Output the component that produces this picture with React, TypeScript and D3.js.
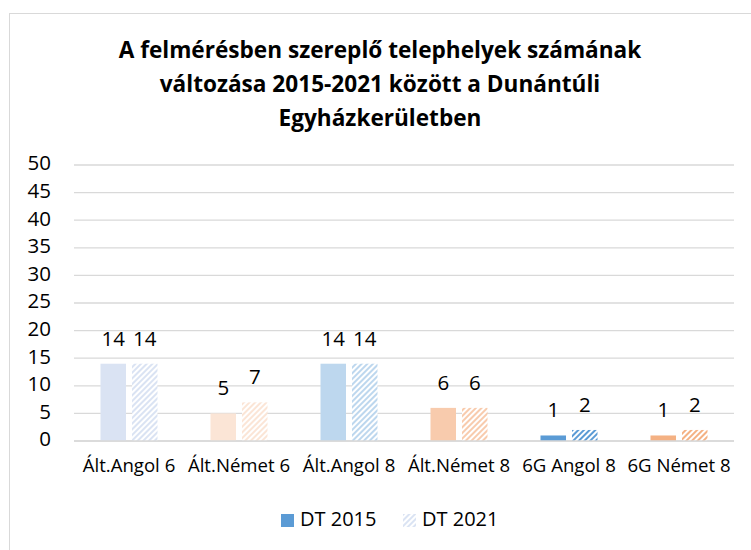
import * as d3 from "d3";

const categories = ["Ált.Angol 6", "Ált.Német 6", "Ált.Angol 8", "Ált.Német 8", "6G Angol 8", "6G Német 8"];
const dt2015 = [14, 5, 14, 6, 1, 1];
const dt2021 = [14, 7, 14, 6, 2, 2];
const seriesNames = ["DT 2015", "DT 2021"];
const yTicks = [0, 5, 10, 15, 20, 25, 30, 35, 40, 45, 50];
const titleLines = [
  "A felmérésben szereplő telephelyek számának",
  "változása 2015-2021 között a Dunántúli",
  "Egyházkerületben",
];

// one colour per category ("vary colours by point")
const pointColors = ["#dae3f3", "#fbe5d6", "#bdd7ee", "#f8cbad", "#5b9bd5", "#f4b183"];

const W = 751;
const H = 550;
const FONT = "'Open Sans', sans-serif";

export default function App() {
  const left = 74;
  const right = 734;
  const top = 165;
  const bottom = 441;

  const x0 = d3.scaleBand().domain(categories).range([left, right]);
  const x1 = d3.scaleBand().domain(seriesNames).range([0, 57]).paddingInner(0.19);
  const y = d3.scaleLinear().domain([0, 50]).range([bottom, top]);

  const groupOffset = (x0.bandwidth() - 57) / 2;

  const series = [dt2015, dt2021];

  return (
    <svg width={W} height={H} style={{ position: "absolute", left: 0, top: 0, background: "#fff" }}>
      <defs>
        {pointColors.map((c, i) => (
          <pattern
            key={i}
            id={`hatch-${i}`}
            patternUnits="userSpaceOnUse"
            width={4}
            height={4}
            patternTransform="rotate(45)"
          >
            <rect width={4} height={4} fill="#fff" />
            <rect width={2} height={4} fill={c} />
          </pattern>
        ))}
      </defs>

      <rect x={9.5} y={13.5} width={W} height={H} fill="#fff" stroke="#d9d9d9" strokeWidth={1} />

      {titleLines.map((t, i) => (
        <text
          key={i}
          x={380}
          y={52 + i * 34}
          textAnchor="middle"
          dominantBaseline="middle"
          fontFamily={FONT}
          fontWeight="bold"
          fontSize={22.6}
          fill="#000"
        >
          {t}
        </text>
      ))}

      {yTicks.map((t) => (
        <g key={t}>
          <line x1={left} x2={right} y1={y(t)} y2={y(t)} stroke="#d9d9d9" strokeWidth={1.3} />
          <text
            x={51}
            y={y(t)}
            textAnchor="end"
            dominantBaseline="middle"
            fontFamily={FONT}
            fontSize={20.5}
            fill="#000"
          >
            {t}
          </text>
        </g>
      ))}

      {categories.map((c, ci) => (
        <g key={c}>
          {series.map((vals, si) => {
            const bx = (x0(c) as number) + groupOffset + (x1(seriesNames[si]) as number);
            const v = vals[ci];
            return (
              <g key={si}>
                <rect
                  x={bx}
                  y={y(v)}
                  width={x1.bandwidth()}
                  height={bottom - y(v)}
                  fill={si === 0 ? pointColors[ci] : `url(#hatch-${ci})`}
                />
                <text
                  x={bx + x1.bandwidth() / 2}
                  y={y(v) - 18}
                  textAnchor="middle"
                  fontFamily={FONT}
                  fontSize={20.5}
                  fill="#000"
                >
                  {v}
                </text>
              </g>
            );
          })}
          <text
            x={(x0(c) as number) + x0.bandwidth() / 2}
            y={467}
            textAnchor="middle"
            dominantBaseline="middle"
            fontFamily={FONT}
            fontSize={18.6}
            fill="#000"
          >
            {c}
          </text>
        </g>
      ))}

      <line x1={left} x2={right} y1={bottom} y2={bottom} stroke="#d9d9d9" strokeWidth={1.3} />

      {/* legend */}
      <rect x={281} y={514} width={13} height={13} fill="#5b9bd5" />
      <text x={300} y={521} dominantBaseline="middle" fontFamily={FONT} fontSize={20} fill="#000">
        {seriesNames[0]}
      </text>
      <rect x={403} y={514} width={13} height={13} fill="url(#hatch-0)" />
      <text x={422} y={521} dominantBaseline="middle" fontFamily={FONT} fontSize={20} fill="#000">
        {seriesNames[1]}
      </text>
    </svg>
  );
}
